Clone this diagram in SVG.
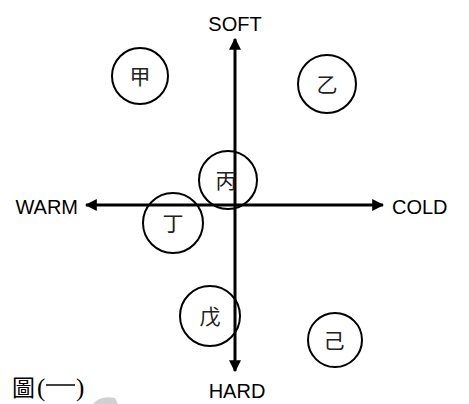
<svg xmlns="http://www.w3.org/2000/svg" width="469" height="404" viewBox="0 0 469 404">
<style>
.axis{stroke:#000;stroke-width:3;fill:none}
.node circle{fill:none;stroke:#000;stroke-width:2}
.node text{font-family:"Noto Sans CJK TC","Noto Sans CJK SC",sans-serif;font-size:21px;fill:#222;text-anchor:middle}
.lbl{font-family:"Liberation Sans",Arial,sans-serif;font-size:20px;fill:#000}
</style>
<defs>
<marker id="ah" viewBox="0 0 10 10" refX="9" refY="5" markerWidth="4" markerHeight="4" orient="auto" markerUnits="strokeWidth">
<path d="M0,0 L10,5 L0,10 z" fill="#000"/>
</marker>
</defs>
<rect width="469" height="404" fill="#fff"/>
<path d="M93,404 Q100,395 115,398 L118,404 Z" fill="#d0d0d0"/>
<g id="connectors">
<line class="axis" x1="235" y1="205" x2="235" y2="39" marker-end="url(#ah)"/>
<line class="axis" x1="235" y1="205" x2="235" y2="371" marker-end="url(#ah)"/>
<line class="axis" x1="235" y1="205" x2="86" y2="205" marker-end="url(#ah)"/>
<line class="axis" x1="235" y1="205" x2="383" y2="205" marker-end="url(#ah)"/>
</g>
<g id="labels">
<text class="lbl" x="235" y="31" text-anchor="middle">SOFT</text>
<text class="lbl" x="237" y="398" text-anchor="middle">HARD</text>
<text class="lbl" x="78" y="214" text-anchor="end">WARM</text>
<text class="lbl" x="392" y="214">COLD</text>
</g>
<g id="n-jia" class="node"><circle cx="140" cy="76" r="28"/><text x="140" y="84">甲</text></g>
<g id="n-yi" class="node"><circle cx="327" cy="84" r="29"/><text x="327" y="92">乙</text></g>
<g id="n-bing" class="node"><circle cx="228" cy="180" r="29"/><text x="226" y="188">丙</text></g>
<g id="n-ding" class="node"><circle cx="173" cy="223" r="30"/><text x="173" y="231">丁</text></g>
<g id="n-wu" class="node"><circle cx="210" cy="316" r="30"/><text x="210" y="324">戊</text></g>
<g id="n-ji" class="node"><circle cx="335" cy="340" r="27"/><text x="334" y="348">己</text></g>
<g id="caption">
<text x="12" y="396" font-family="'Noto Sans CJK TC','Noto Sans CJK SC',serif" font-size="23" fill="#000">圖</text>
<text x="37" y="396" font-family="'Liberation Serif',serif" font-size="25" fill="#000">(</text>
<line x1="46" y1="385" x2="75" y2="385" stroke="#000" stroke-width="1.5"/>
<text x="76" y="396" font-family="'Liberation Serif',serif" font-size="25" fill="#000">)</text>
</g>
</svg>
